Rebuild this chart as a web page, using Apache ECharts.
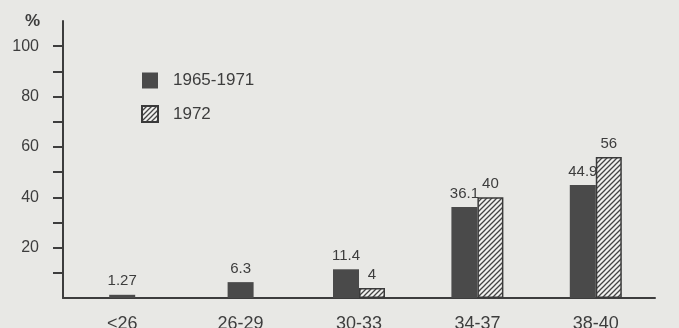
<!DOCTYPE html>
<html>
<head>
<meta charset="utf-8">
<script src="https://cdn.jsdelivr.net/npm/echarts@6/dist/echarts.min.js"></script>
<style>
  html, body { margin: 0; padding: 0; background: #e8e8e5; }
  #chart { width: 679px; height: 328px; }
</style>
</head>
<body>
<div id="chart"></div>
<script>
// Age groups and the two periods being compared
const categories = ['<26', '26-29', '30-33', '34-37', '38-40'];
const period1965 = [1.27, 6.3, 11.4, 36.1, 44.9];
const period1972 = [null, null, 4, 40, 56];
const seriesNames = ['1965-1971', '1972'];
const yTicks = [10, 20, 30, 40, 50, 60, 70, 80, 90, 100];
const yLabels = [20, 40, 60, 80, 100];

const ink = '#3d3d3d';
const barDark = '#4a4a4a';
const paper = '#e8e8e5';
const font = 'Liberation Sans';

// Diagonal "////" hatch used for the 1972 bars
function hatch() {
  const s = 5;
  const c = document.createElement('canvas');
  c.width = s; c.height = s;
  const g = c.getContext('2d');
  g.fillStyle = '#f0f0ee';
  g.fillRect(0, 0, s, s);
  g.strokeStyle = '#444';
  g.lineWidth = 1.3;
  g.beginPath();
  g.moveTo(-1, s + 1); g.lineTo(s + 1, -1);
  g.moveTo(-1, 1); g.lineTo(1, -1);
  g.moveTo(s - 1, s + 1); g.lineTo(s + 1, s - 1);
  g.stroke();
  return c;
}
const hatchPattern = { image: hatch(), repeat: 'repeat' };

// Groups with both periods get paired bars; groups with one period get a centred bar
const pairedDark = period1965.map((v, i) => (period1972[i] == null ? null : v));
const singleDark = period1965.map((v, i) => (period1972[i] == null ? v : null));

const valueLabel = {
  show: true,
  position: 'top',
  distance: 6,
  color: ink,
  fontFamily: font,
  fontSize: 15
};

const chart = echarts.init(document.getElementById('chart'), null, { renderer: 'canvas' });
chart.setOption({
  backgroundColor: paper,
  animation: false,
  textStyle: { fontFamily: font, color: ink },
  grid: { left: 63, right: 24, top: 21, bottom: 30, containLabel: false, outerBoundsMode: 'none' },
  legend: {
    orient: 'vertical',
    left: 141,
    top: 72,
    padding: 0,
    icon: 'rect',
    itemWidth: 16,
    itemHeight: 16,
    itemGap: 16,
    data: seriesNames,
    textStyle: { color: ink, fontFamily: font, fontSize: 17, padding: [0, 0, 0, 10] }
  },
  xAxis: [
    {
      type: 'category',
      data: categories,
      axisLine: { lineStyle: { color: ink, width: 2 } },
      axisTick: { show: false },
      axisLabel: { color: ink, fontFamily: font, fontSize: 18, margin: 17 }
    },
    {
      type: 'category',
      data: categories,
      show: false
    }
  ],
  yAxis: {
    type: 'value',
    min: 0,
    max: 110,
    interval: 10,
    name: '%',
    nameLocation: 'end',
    nameGap: -9,
    nameTextStyle: { color: ink, fontFamily: font, fontSize: 17, fontWeight: 'bold', align: 'right', padding: [0, 23, 0, 0] },
    axisLine: { show: true, lineStyle: { color: ink, width: 2 } },
    axisTick: { show: true, length: 10, lineStyle: { color: ink, width: 2 }, customValues: yTicks },
    axisLabel: { color: ink, fontFamily: font, fontSize: 16, margin: 24, customValues: yLabels },
    splitLine: { show: false }
  },
  series: [
    {
      name: seriesNames[0],
      type: 'bar',
      xAxisIndex: 0,
      data: pairedDark,
      barWidth: 26,
      barGap: '0%',
      itemStyle: { color: barDark },
      label: valueLabel
    },
    {
      name: seriesNames[1],
      type: 'bar',
      xAxisIndex: 0,
      data: period1972,
      barWidth: 26,
      barGap: '0%',
      itemStyle: { color: hatchPattern, borderColor: '#3a3a3a', borderWidth: 1.5 },
      label: valueLabel
    },
    {
      name: seriesNames[0],
      type: 'bar',
      xAxisIndex: 1,
      data: singleDark,
      barWidth: 26,
      itemStyle: { color: barDark },
      label: valueLabel
    }
  ]
});
</script>
</body>
</html>
